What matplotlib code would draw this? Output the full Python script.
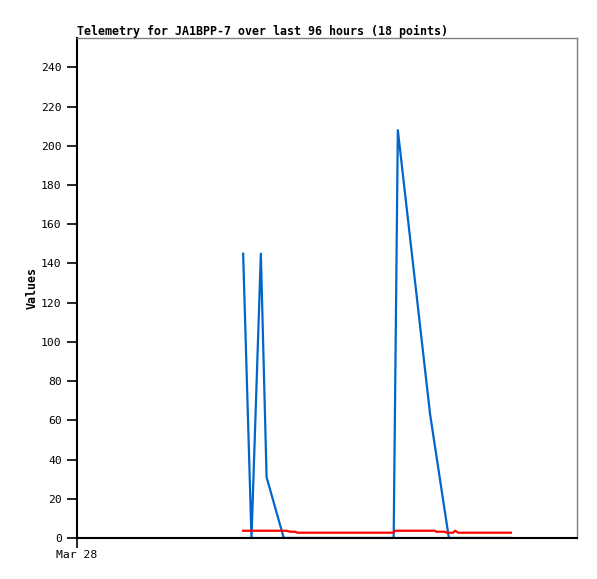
import matplotlib
matplotlib.use("Agg")
import matplotlib.pyplot as plt
import numpy as np

# hours since start of the 96 hour window
blue_t = [31.9, 33.5, 35.3, 36.4, 39.7, 60.8, 61.6, 67.8, 71.4, 83.3]
blue_v = [145, 0, 145, 31, 0, 0, 208, 63, 0, 0]

red_t = [31.9, 40.2, 40.9, 41.9, 42.3, 60.7, 61.1, 68.7, 69.0, 70.6, 71.0,
         72.2, 72.6, 73.2, 83.3]
red_v = [3.7, 3.7, 3.2, 3.2, 2.7, 2.7, 3.7, 3.7, 3.2, 3.2, 2.7,
         2.7, 3.7, 2.7, 2.7]

black_t = [31.9, 83.3]
black_v = [0, 0]

yticks = list(range(0, 241, 20))
xtick_labels = ["Mar 28"]

W, H = 597, 579
fig = plt.figure(figsize=(W / 100, H / 100), dpi=100)
ax = fig.add_axes([77 / W, (H - 538) / H, 500 / W, 500 / H])

mono = "DejaVu Sans Mono"
ax.plot(blue_t, blue_v, color="#0066cc", lw=1.6, zorder=2)
ax.plot(red_t, red_v, color="#ff0000", lw=1.6, zorder=3)
ax.plot(black_t, black_v, color="black", lw=1.5, zorder=4)

ax.set_xlim(0, 96)
ax.set_ylim(0, 255)
ax.set_yticks(yticks)
ax.set_yticklabels([str(v) for v in yticks], fontfamily=mono, fontsize=8.2)
ax.set_xticks([0])
ax.set_xticklabels(xtick_labels, fontfamily=mono, fontsize=8.2)
ax.tick_params(axis="y", direction="out", length=7, width=1.2, pad=4)
ax.tick_params(axis="x", direction="out", length=7, width=1.2, pad=2)

for s in ["top", "right"]:
    ax.spines[s].set_color("#808080")
    ax.spines[s].set_linewidth(1)
for s in ["left", "bottom"]:
    ax.spines[s].set_color("black")
    ax.spines[s].set_linewidth(1.5)

ax.set_title("Telemetry for JA1BPP-7 over last 96 hours (18 points)",
             fontfamily=mono, fontweight="bold", fontsize=8.4, loc="left", pad=2)
ax.set_ylabel("Values", fontfamily=mono, fontweight="bold", fontsize=8.4, labelpad=2)

fig.savefig("out.png", dpi=100)
